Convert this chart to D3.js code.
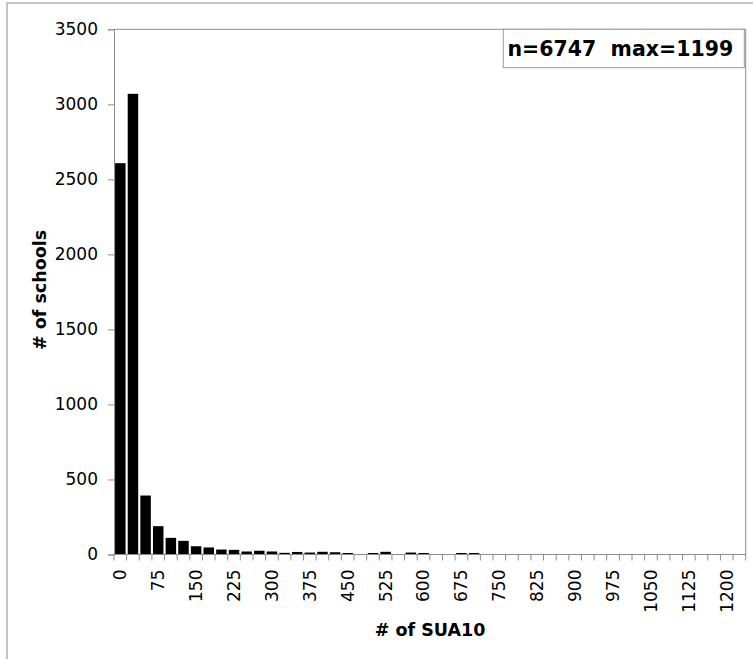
<!DOCTYPE html>
<html>
<head>
<meta charset="utf-8">
<script src="https://cdn.jsdelivr.net/npm/d3@7"></script>
<style>
  html, body { margin: 0; padding: 0; background: #fff; }
  svg { display: block; }
  text { font-family: "DejaVu Sans", Verdana, sans-serif; }
</style>
</head>
<body>
<svg id="chart" width="753" height="659"></svg>
<script>
// Bin start values (# of SUA10), width 25
const bins = d3.range(0, 1250, 25);
// Number of schools per bin
const counts = [2608, 3070, 393, 189, 111, 91, 55, 47, 33, 31,
                20, 25, 20, 11, 17, 13, 18, 15, 10, 3,
                10, 18, 2, 13, 10, 1, 1, 10, 10, 1,
                1, 0, 0, 1, 0, 0, 0, 0, 0, 0,
                0, 0, 0, 0, 0, 0, 0, 1, 0, 0];
const yTicks = [0, 500, 1000, 1500, 2000, 2500, 3000, 3500];
const xTickLabels = bins.filter((d, i) => i % 3 === 0 && d <= 1200);
const legendText = "n=6747\u00a0\u00a0max=1199";
const xTitle = "# of SUA10";
const yTitle = "# of schools";

const svg = d3.select("#chart");
const m = { left: 114, right: 745.7, top: 29.3, bottom: 554.5 };
const axisColor = "#8c8c8c";

// outer chart frame
svg.append("rect").attr("x", 7).attr("y", 3).attr("width", 760).attr("height", 680)
  .attr("fill", "none").attr("stroke", "#c4c4c4").attr("stroke-width", 2);

const x = d3.scaleBand().domain(bins).range([m.left, m.right]).paddingInner(0.17).paddingOuter(0.085);
const xb = d3.scaleBand().domain(bins).range([m.left, m.right]);
const y = d3.scaleLinear().domain([0, 3500]).range([m.bottom, m.top]);

// plot area frame (top and right)
svg.append("path")
  .attr("d", `M${m.left},${m.top}H${m.right}V${m.bottom}`)
  .attr("fill", "none").attr("stroke", axisColor).attr("stroke-width", 1);

// bars
svg.append("g").selectAll("rect").data(counts).join("rect")
  .attr("x", (d, i) => x(bins[i]))
  .attr("width", x.bandwidth())
  .attr("y", d => y(d))
  .attr("height", d => y(0) - y(d))
  .attr("fill", "#000");

// y axis
const yAxis = d3.axisLeft(y).tickValues(yTicks).tickSize(6).tickPadding(10).tickFormat(d3.format("d"));
const gy = svg.append("g").attr("transform", `translate(${m.left},0)`).call(yAxis);
gy.select(".domain").attr("stroke", axisColor);
gy.selectAll(".tick line").attr("stroke", axisColor);
gy.selectAll(".tick text").attr("font-size", "17px").attr("fill", "#000")
  .attr("font-family", "DejaVu Sans, Verdana, sans-serif");

// x axis: tick marks at category boundaries
const gx = svg.append("g");
gx.append("line").attr("x1", m.left).attr("x2", m.right).attr("y1", m.bottom).attr("y2", m.bottom)
  .attr("stroke", axisColor);
gx.selectAll("line.tk").data(bins.concat([1250])).join("line").attr("class", "tk")
  .attr("x1", (d, i) => m.left + i * xb.step()).attr("x2", (d, i) => m.left + i * xb.step())
  .attr("y1", m.bottom).attr("y2", m.bottom + 6).attr("stroke", axisColor);
gx.selectAll("text").data(xTickLabels).join("text")
  .attr("transform", d => `translate(${xb(d) + xb.bandwidth() / 2},${m.bottom + 15}) rotate(-90)`)
  .attr("text-anchor", "end").attr("dy", "0.35em")
  .attr("font-size", "17px").attr("fill", "#000")
  .text(d => d);

// axis titles
svg.append("text").attr("x", 430).attr("y", 636).attr("text-anchor", "middle")
  .attr("font-size", "17.5px").attr("font-weight", "bold").text(xTitle);
svg.append("text").attr("transform", "translate(46,290) rotate(-90)").attr("text-anchor", "middle")
  .attr("font-size", "17.5px").attr("font-weight", "bold").text(yTitle);

// legend box
svg.append("rect").attr("x", 503.3).attr("y", 29.3).attr("width", 241).attr("height", 38.4)
  .attr("fill", "#fff").attr("stroke", "#9a9a9a").attr("stroke-width", 1);
svg.append("text").attr("x", 507.5).attr("y", 55.5).attr("font-size", "20.5px")
  .attr("font-weight", "bold").text(legendText);
</script>
</body>
</html>
